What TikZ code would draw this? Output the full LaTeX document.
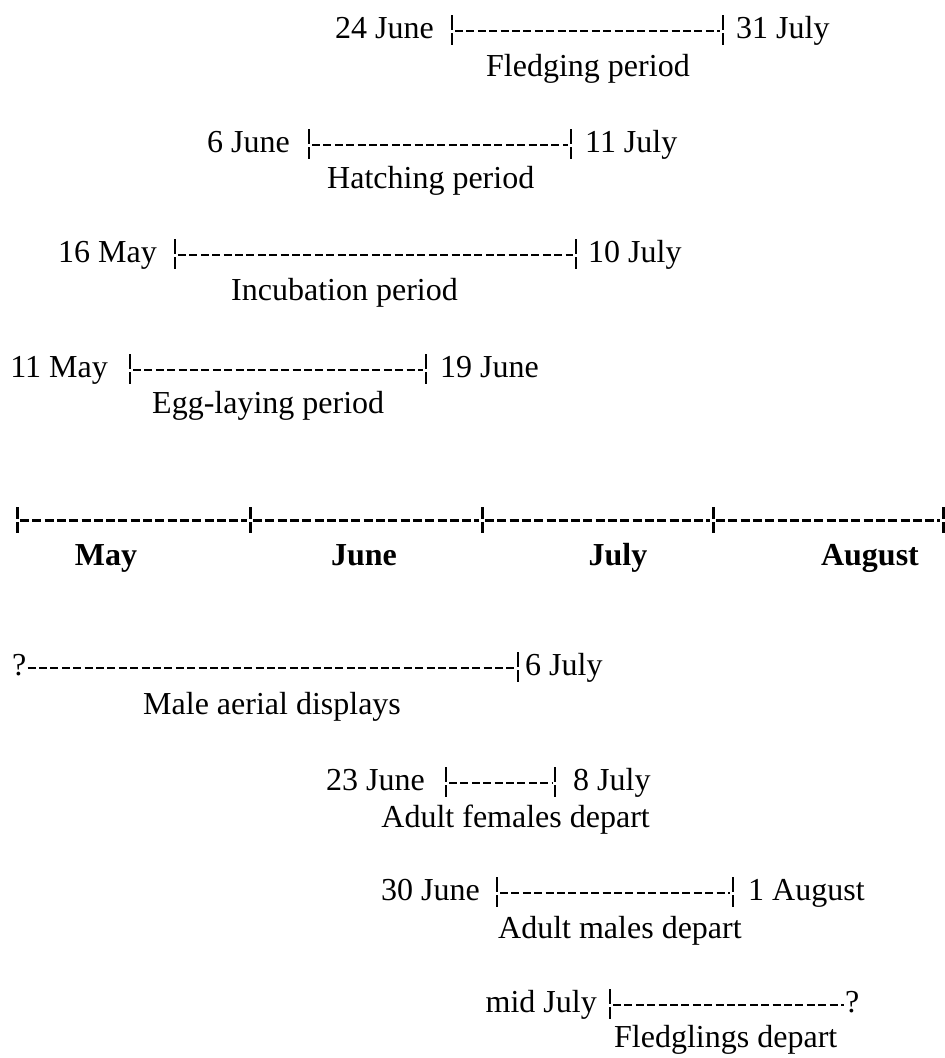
\documentclass[tikz,border=0pt]{standalone}
\usepackage{fontspec}
\setmainfont{Liberation Serif}
\usetikzlibrary{positioning}
\tikzset{
  datetxt/.style={inner sep=0pt,font=\fontsize{32}{38}\selectfont},
  periodtxt/.style={datetxt},
  monthtxt/.style={inner sep=0pt,font=\fontsize{32}{38}\selectfont\bfseries},
  spanline/.style={line width=1.5pt,dash pattern=on 8pt off 3.4pt,shorten <=3pt,shorten >=3pt},
  axisline/.style={spanline,line width=3pt,dash pattern=on 9pt off 3.3pt},
  pics/brkbar/.style={code={\draw[line width=1.5pt] (0,-16)--(0,-1) (0,2)--(0,14);}},
  pics/bigbar/.style={code={\draw[line width=3pt] (0,-13)--(0,-1) (0,2)--(0,13);}},
}
\begin{document}
\begin{tikzpicture}[x=1pt,y=-1pt]
  \useasboundingbox (0,0) rectangle (945,1058);

  % fledging
  \node[datetxt,anchor=base east] (fl-from) at (434,38) {24 June};
  \coordinate (fl-a) at (452,31);
  \coordinate (fl-b) at (723,31);
  \node[datetxt,anchor=base west] (fl-to) at (736,38) {31 July};
  \node[periodtxt,anchor=base west] (fl-lab) at (486,76) {Fledging period};
  \pic at (fl-a) {brkbar}; \pic at (fl-b) {brkbar};
  \draw[spanline] (fl-a) -- (fl-b);

  % hatching
  \node[datetxt,anchor=base east] (ha-from) at (290,152) {6 June};
  \coordinate (ha-a) at (309,145);
  \coordinate (ha-b) at (571,145);
  \node[datetxt,anchor=base west] (ha-to) at (585,152) {11 July};
  \node[periodtxt,anchor=base west] (ha-lab) at (327,188) {Hatching period};
  \pic at (ha-a) {brkbar}; \pic at (ha-b) {brkbar};
  \draw[spanline] (ha-a) -- (ha-b);

  % incubation
  \node[datetxt,anchor=base east] (in-from) at (157,262) {16 May};
  \coordinate (in-a) at (175,255);
  \coordinate (in-b) at (576,255);
  \node[datetxt,anchor=base west] (in-to) at (588,262) {10 July};
  \node[periodtxt,anchor=base west] (in-lab) at (231,300) {Incubation period};
  \pic at (in-a) {brkbar}; \pic at (in-b) {brkbar};
  \draw[spanline] (in-a) -- (in-b);

  % egg-laying
  \node[datetxt,anchor=base east] (eg-from) at (108,377) {11 May};
  \coordinate (eg-a) at (130,370);
  \coordinate (eg-b) at (426,370);
  \node[datetxt,anchor=base west] (eg-to) at (440,377) {19 June};
  \node[periodtxt,anchor=base west] (eg-lab) at (152,413) {Egg-laying period};
  \pic at (eg-a) {brkbar}; \pic at (eg-b) {brkbar};
  \draw[spanline] (eg-a) -- (eg-b);

  % month axis
  \coordinate (m0) at (17,520);
  \coordinate (m1) at (250,520);
  \coordinate (m2) at (482,520);
  \coordinate (m3) at (713,520);
  \coordinate (m4) at (943,520);
  \pic at (m0) {bigbar}; \pic at (m1) {bigbar}; \pic at (m2) {bigbar};
  \pic at (m3) {bigbar}; \pic at (m4) {bigbar};
  \draw[axisline] (m0) -- (m1);
  \draw[axisline] (m1) -- (m2);
  \draw[axisline] (m2) -- (m3);
  \draw[axisline] (m3) -- (m4);
  \node[monthtxt,anchor=base] (may) at (106,565) {May};
  \node[monthtxt,anchor=base] (june) at (364,565) {June};
  \node[monthtxt,anchor=base] (july) at (618,565) {July};
  \node[monthtxt,anchor=base] (aug) at (870,565) {August};

  % male aerial displays
  \node[datetxt,anchor=base west] (md-from) at (12,675) {?};
  \coordinate (md-b) at (518,668);
  \node[datetxt,anchor=base west] (md-to) at (525,675) {6 July};
  \node[periodtxt,anchor=base west] (md-lab) at (143,714) {Male aerial displays};
  \pic at (md-b) {brkbar};
  \draw[spanline,shorten <=1pt] (md-from.east |- md-b) -- (md-b);

  % adult females
  \node[datetxt,anchor=base east] (af-from) at (425,790) {23 June};
  \coordinate (af-a) at (446,783);
  \coordinate (af-b) at (555,783);
  \node[datetxt,anchor=base west] (af-to) at (573,790) {8 July};
  \node[periodtxt,anchor=base east] (af-lab) at (650,827) {Adult females depart};
  \pic at (af-a) {brkbar}; \pic at (af-b) {brkbar};
  \draw[spanline] (af-a) -- (af-b);

  % adult males
  \node[datetxt,anchor=base east] (am-from) at (480,900) {30 June};
  \coordinate (am-a) at (497,893);
  \coordinate (am-b) at (733,893);
  \node[datetxt,anchor=base west] (am-to) at (748,900) {1 August};
  \node[periodtxt,anchor=base west] (am-lab) at (498,938) {Adult males depart};
  \pic at (am-a) {brkbar}; \pic at (am-b) {brkbar};
  \draw[spanline] (am-a) -- (am-b);

  % fledglings
  \node[datetxt,anchor=base east] (fd-from) at (597,1012) {mid July};
  \coordinate (fd-a) at (610,1005);
  \node[datetxt,anchor=base west] (fd-to) at (845,1012) {?};
  \node[periodtxt,anchor=base west] (fd-lab) at (614,1047) {Fledglings depart};
  \pic at (fd-a) {brkbar};
  \draw[spanline,shorten >=1pt] (fd-a) -- (fd-to.west |- fd-a);
\end{tikzpicture}
\end{document}
